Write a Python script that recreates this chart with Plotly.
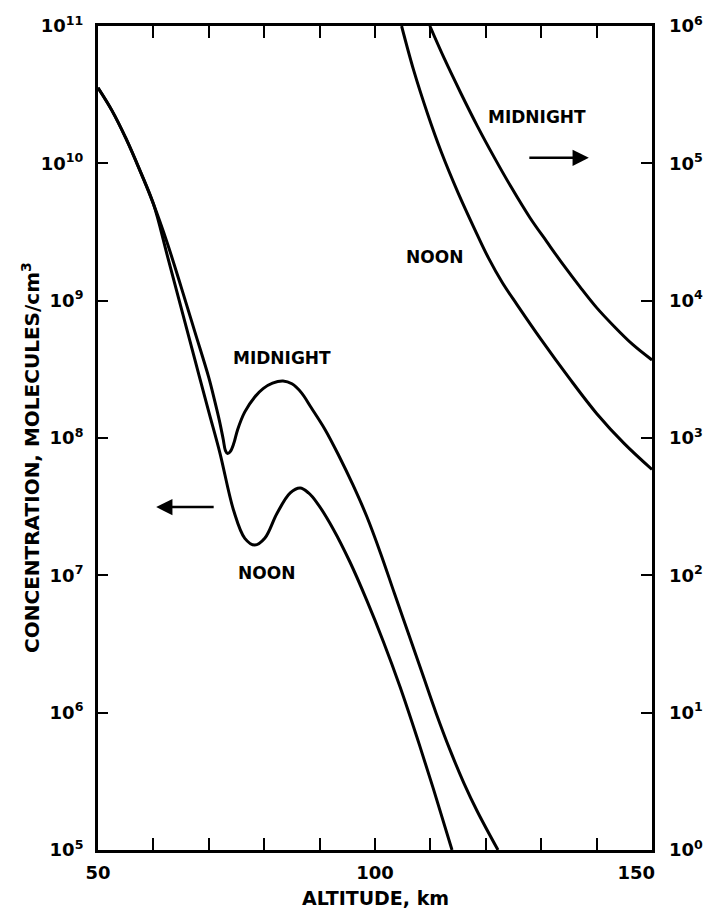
import plotly.graph_objects as go

# ---- data ----
noon_alt = [50.0, 52.5, 55.0, 57.5, 60.0, 62.5, 65.0, 67.5, 70.0, 72.0, 74.5, 76.5, 78.3,
            80.1, 82.3, 84.7, 86.5, 88.0, 89.5, 92.5, 95.5, 98.5, 101.5, 104.5, 107.5, 110.5, 113.9]
noon_conc = [3.55e10, 2.43e10, 1.53e10, 9.0e9, 5.07e9, 2.14e9, 8.9e8, 3.7e8, 1.55e8, 7.8e7,
             2.95e7, 1.86e7, 1.66e7, 1.86e7, 2.82e7, 3.98e7, 4.32e7, 3.98e7, 3.39e7, 2.16e7,
             1.245e7, 6.6e6, 3.3e6, 1.55e6, 6.76e5, 2.82e5, 1.0e5]

midnight_alt = [50.0, 52.5, 55.0, 57.5, 60.0, 62.5, 65.0, 67.5, 70.0, 71.0, 72.0, 72.6, 73.0,
                73.4, 73.9, 74.5, 75.2, 76.5, 78.3, 79.8, 81.5, 83.4, 85.0, 86.7, 88.5, 91.0,
                93.5, 96.0, 98.5, 101.0, 103.5, 106.0, 108.5, 111.0, 113.5, 116.0, 118.5, 122.2]
midnight_conc = [3.55e10, 2.43e10, 1.53e10, 9.0e9, 5.07e9, 2.63e9, 1.26e9, 5.9e8, 2.75e8, 1.91e8,
                 1.29e8, 9.8e7, 8.1e7, 7.7e7, 8.0e7, 9.1e7, 1.15e8, 1.55e8, 1.99e8, 2.29e8,
                 2.51e8, 2.6e8, 2.48e8, 2.14e8, 1.66e8, 1.15e8, 7.4e7, 4.57e7, 2.69e7, 1.45e7,
                 7.4e6, 3.8e6, 1.95e6, 1.0e6, 5.4e5, 3.1e5, 1.9e5, 1.0e5]

noon_r_alt = [104.8, 107.0, 109.5, 112.0, 115.0, 118.0, 120.5, 123.0, 125.6, 130.0, 135.0,
              140.0, 145.0, 150.0]
noon_r_conc = [1.0e6, 4.73e5, 2.29e5, 1.2e5, 6.1e4, 3.31e4, 2.04e4, 1.35e4, 9.4e3, 5.2e3,
               2.75e3, 1.51e3, 9.1e2, 5.9e2]

midnight_r_alt = [109.9, 112.5, 115.5, 118.5, 121.5, 124.5, 128.0, 131.0, 134.0, 137.0, 140.0,
                  143.0, 146.5, 150.0]
midnight_r_conc = [1.0e6, 5.8e5, 3.24e5, 1.86e5, 1.11e5, 6.8e4, 4.0e4, 2.69e4, 1.82e4, 1.26e4,
                   8.9e3, 6.6e3, 4.8e3, 3.7e3]

x_tickvals = [50, 60, 70, 80, 90, 100, 110, 120, 130, 140, 150]
x_ticktext = ["50", "", "", "", "", "100", "", "", "", "",
              "150\u00a0\u00a0\u00a0\u00a0\u00a0"]
yl_tickvals = [1e5, 1e6, 1e7, 1e8, 1e9, 1e10, 1e11]
yl_ticktext = ["10<sup>5</sup>", "10<sup>6</sup>", "10<sup>7</sup>", "10<sup>8</sup>",
               "10<sup>9</sup>", "10<sup>10</sup>", "10<sup>11</sup>"]
yr_tickvals = [1e0, 1e1, 1e2, 1e3, 1e4, 1e5, 1e6]
yr_ticktext = ["10<sup>0</sup>", "10<sup>1</sup>", "10<sup>2</sup>", "10<sup>3</sup>",
               "10<sup>4</sup>", "10<sup>5</sup>", "10<sup>6</sup>"]

FONT = "DejaVu Sans"
line = dict(color="black", width=3, shape="spline", smoothing=1.0)

fig = go.Figure()
fig.add_trace(go.Scatter(x=noon_alt, y=noon_conc, mode="lines", line=line, yaxis="y"))
fig.add_trace(go.Scatter(x=midnight_alt, y=midnight_conc, mode="lines", line=line, yaxis="y"))
fig.add_trace(go.Scatter(x=noon_r_alt, y=noon_r_conc, mode="lines", line=line, yaxis="y2"))
fig.add_trace(go.Scatter(x=midnight_r_alt, y=midnight_r_conc, mode="lines", line=line, yaxis="y2"))

tickfont = dict(family=FONT, size=18, color="black", weight="bold")

fig.update_layout(
    width=703, height=913,
    margin=dict(l=98, r=51, t=26, b=63, autoexpand=False),
    paper_bgcolor="white", plot_bgcolor="white",
    showlegend=False,
    xaxis=dict(range=[50, 150], tickmode="array", tickvals=x_tickvals, ticktext=x_ticktext,
               ticks="inside", ticklen=12, tickwidth=2, tickcolor="black",
               showline=True, linewidth=3, linecolor="black", mirror="ticks",
               showgrid=False, zeroline=False, ticklabelstandoff=4, automargin=False,
               tickfont=dict(family=FONT, size=18, color="black", weight="bold")),
    yaxis=dict(type="log", range=[5, 11], tickmode="array", tickvals=yl_tickvals, ticktext=yl_ticktext,
               ticks="inside", ticklen=10, tickwidth=2, tickcolor="black",
               showline=True, linewidth=3, linecolor="black", mirror=True,
               showgrid=False, zeroline=False, ticklabelstandoff=8, automargin=False,
               tickfont=tickfont),
    yaxis2=dict(type="log", range=[0, 6], overlaying="y", side="right",
                tickmode="array", tickvals=yr_tickvals, ticktext=yr_ticktext,
                ticks="inside", ticklen=11, tickwidth=2, tickcolor="black",
                showline=False, showgrid=False, zeroline=False, automargin=False,
                ticklabelstandoff=16, tickfont=tickfont),
)

lab = dict(family=FONT, size=17, color="black", weight="bold")
fig.add_annotation(x=83.2, y=8.58, xref="x", yref="y", text="MIDNIGHT", showarrow=False, font=lab)
fig.add_annotation(x=80.5, y=7.016, xref="x", yref="y", text="NOON", showarrow=False, font=lab)
fig.add_annotation(x=129.2, y=5.337, xref="x", yref="y2", text="MIDNIGHT", showarrow=False, font=lab)
fig.add_annotation(x=110.8, y=4.318, xref="x", yref="y2", text="NOON", showarrow=False, font=lab)

# arrows
fig.add_annotation(x=60.5, y=7.497, xref="x", yref="y", ax=59, ay=0, text="", showarrow=True,
                   arrowhead=2, arrowsize=1.3, arrowwidth=2.5, arrowcolor="black")
fig.add_annotation(x=138.6, y=5.04, xref="x", yref="y2", ax=-61, ay=0, text="", showarrow=True,
                   arrowhead=2, arrowsize=1.3, arrowwidth=2.5, arrowcolor="black")

# axis titles
fig.add_annotation(x=0.5, y=-0.058, xref="paper", yref="paper", text="ALTITUDE, km",
                   showarrow=False, yanchor="middle",
                   font=dict(family=FONT, size=19, color="black", weight="bold"))
fig.add_annotation(x=-0.121, y=0.477, xref="paper", yref="paper",
                   text="CONCENTRATION, MOLECULES/cm<sup>3</sup>", textangle=-90,
                   showarrow=False, xanchor="center", yanchor="middle",
                   font=dict(family=FONT, size=20, color="black", weight="bold"))

fig.write_html("out.html")
